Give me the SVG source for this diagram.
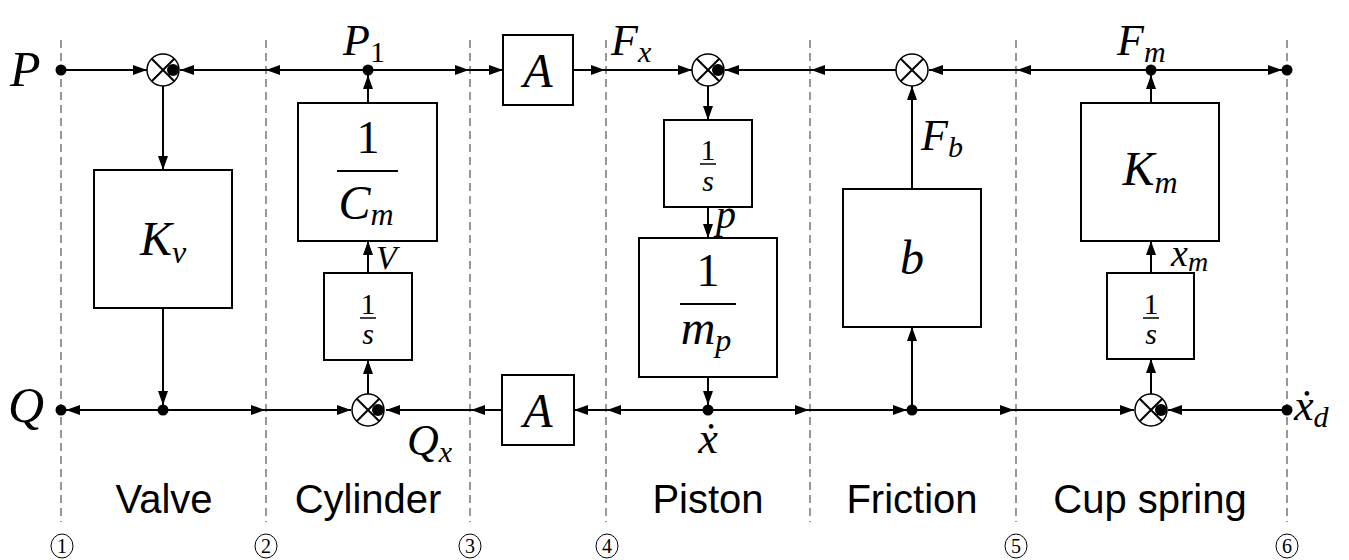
<svg xmlns="http://www.w3.org/2000/svg" width="1349" height="560" viewBox="0 0 1349 560">
<defs>
<marker id="arr" viewBox="0 0 14 10" refX="14" refY="5" markerWidth="14" markerHeight="10" markerUnits="userSpaceOnUse" orient="auto">
<path d="M0,0 L14,5 L0,10 z" fill="#000"/>
</marker>
<style>
.dash{stroke:#555;stroke-width:1.2;stroke-dasharray:8 5;fill:none}
.w{stroke:#000;stroke-width:2;fill:none;marker-end:url(#arr)}
.box{fill:#fff;stroke:#000;stroke-width:2}
.dot{fill:#000}
.sj{fill:#fff;stroke:#000;stroke-width:1.5}
.x{stroke:#000;stroke-width:2}
.m{font-family:"Liberation Serif",serif;font-style:italic;fill:#000}
.n{font-family:"Liberation Serif",serif;fill:#000}
.s{font-family:"Liberation Sans",sans-serif;fill:#000}
.fl{stroke:#000;stroke-width:2}
.c{fill:none;stroke:#000;stroke-width:1}
</style>
</defs>
<rect width="1349" height="560" fill="#fff"/>
<g id="sections">
<line class="dash" x1="61" y1="40" x2="61" y2="522"/>
<line class="dash" x1="266" y1="40" x2="266" y2="522"/>
<line class="dash" x1="470" y1="40" x2="470" y2="522"/>
<line class="dash" x1="606" y1="40" x2="606" y2="522"/>
<line class="dash" x1="810" y1="40" x2="810" y2="522"/>
<line class="dash" x1="1016" y1="40" x2="1016" y2="522"/>
<line class="dash" x1="1287" y1="40" x2="1287" y2="522"/>
</g>
<g id="connectors">
<line class="w" x1="61" y1="70" x2="147" y2="70"/>
<line class="w" x1="368" y1="70" x2="266" y2="70"/>
<line class="w" x1="266" y1="70" x2="180" y2="70"/>
<line class="w" x1="368" y1="70" x2="469" y2="70"/>
<line class="w" x1="469" y1="70" x2="503" y2="70"/>
<line class="w" x1="573" y1="70" x2="605" y2="70"/>
<line class="w" x1="605" y1="70" x2="692" y2="70"/>
<line class="w" x1="896" y1="70" x2="811" y2="70"/>
<line class="w" x1="811" y1="70" x2="725" y2="70"/>
<line class="w" x1="1151" y1="70" x2="1017" y2="70"/>
<line class="w" x1="1017" y1="70" x2="929" y2="70"/>
<line class="w" x1="1151" y1="70" x2="1282" y2="70"/>
<line class="w" x1="163" y1="86" x2="163" y2="170"/>
<line class="w" x1="368" y1="103" x2="368" y2="75"/>
<line class="w" x1="708" y1="86" x2="708" y2="120"/>
<line class="w" x1="708" y1="207" x2="708" y2="238"/>
<line class="w" x1="912" y1="189" x2="912" y2="86"/>
<line class="w" x1="1151" y1="103" x2="1151" y2="75"/>
<line class="w" x1="368" y1="273" x2="368" y2="241"/>
<line class="w" x1="368" y1="394" x2="368" y2="360"/>
<line class="w" x1="1151" y1="273" x2="1151" y2="241"/>
<line class="w" x1="1151" y1="394" x2="1151" y2="359"/>
<line class="w" x1="163" y1="308" x2="163" y2="405"/>
<line class="w" x1="163" y1="410" x2="66" y2="410"/>
<line class="w" x1="163" y1="410" x2="265" y2="410"/>
<line class="w" x1="265" y1="410" x2="351" y2="410"/>
<line class="w" x1="502" y1="410" x2="471" y2="410"/>
<line class="w" x1="471" y1="410" x2="386" y2="410"/>
<line class="w" x1="708" y1="410" x2="607" y2="410"/>
<line class="w" x1="607" y1="410" x2="574" y2="410"/>
<line class="w" x1="708" y1="377" x2="708" y2="405"/>
<line class="w" x1="708" y1="410" x2="809" y2="410"/>
<line class="w" x1="809" y1="410" x2="907" y2="410"/>
<line class="w" x1="912" y1="410" x2="912" y2="327"/>
<line class="w" x1="912" y1="410" x2="1014" y2="410"/>
<line class="w" x1="1014" y1="410" x2="1134" y2="410"/>
<line class="w" x1="1287" y1="410" x2="1168" y2="410"/>
</g>
<g id="dots">
<circle class="dot" cx="61" cy="70" r="5.5"/>
<circle class="dot" cx="368" cy="70" r="5.5"/>
<circle class="dot" cx="1151" cy="70" r="5.5"/>
<circle class="dot" cx="1287" cy="70" r="5.5"/>
<circle class="dot" cx="61" cy="410" r="5.5"/>
<circle class="dot" cx="163" cy="410" r="5.5"/>
<circle class="dot" cx="708" cy="410" r="5.5"/>
<circle class="dot" cx="912" cy="410" r="5.5"/>
<circle class="dot" cx="1287" cy="410" r="5.5"/>
</g>
<g id="sum1">
<circle class="sj" cx="163" cy="70" r="16"/>
<line class="x" x1="151.7" y1="58.7" x2="174.3" y2="81.3"/><line class="x" x1="151.7" y1="81.3" x2="174.3" y2="58.7"/>
<circle class="dot" cx="173" cy="70" r="6"/>
</g>
<g id="sum2">
<circle class="sj" cx="708" cy="70" r="16"/>
<line class="x" x1="696.7" y1="58.7" x2="719.3" y2="81.3"/><line class="x" x1="696.7" y1="81.3" x2="719.3" y2="58.7"/>
<circle class="dot" cx="718" cy="70" r="6"/>
</g>
<g id="sum3">
<circle class="sj" cx="912" cy="70" r="16"/>
<line class="x" x1="900.7" y1="58.7" x2="923.3" y2="81.3"/><line class="x" x1="900.7" y1="81.3" x2="923.3" y2="58.7"/>
</g>
<g id="sum4">
<circle class="sj" cx="368" cy="410" r="16"/>
<line class="x" x1="356.7" y1="398.7" x2="379.3" y2="421.3"/><line class="x" x1="356.7" y1="421.3" x2="379.3" y2="398.7"/>
<circle class="dot" cx="378" cy="410" r="6"/>
</g>
<g id="sum5">
<circle class="sj" cx="1151" cy="410" r="16"/>
<line class="x" x1="1139.7" y1="398.7" x2="1162.3" y2="421.3"/><line class="x" x1="1139.7" y1="421.3" x2="1162.3" y2="398.7"/>
<circle class="dot" cx="1161" cy="410" r="6"/>
</g>
<g id="Kv">
<rect class="box" x="94" y="170" width="138" height="138"/>
<text class="m" x="163" y="255" font-size="48" text-anchor="middle">K<tspan font-size="32" dy="8">v</tspan></text>
</g>
<g id="invCm">
<rect class="box" x="298" y="103" width="139" height="138"/>
<text class="n" x="368" y="153" font-size="46" text-anchor="middle">1</text>
<line class="fl" x1="337" y1="171" x2="398" y2="171"/>
<text class="m" x="366" y="219" font-size="48" text-anchor="middle">C<tspan font-size="32" dy="6">m</tspan></text>
</g>
<g id="intV">
<rect class="box" x="324" y="273" width="88" height="87"/>
<text class="n" x="368" y="314" font-size="30" text-anchor="middle">1</text>
<line class="fl" x1="360" y1="318" x2="376" y2="318" style="stroke-width:1.5"/>
<text class="m" x="368" y="344" font-size="30" text-anchor="middle">s</text>
</g>
<g id="Atop">
<rect class="box" x="503" y="35" width="70" height="70"/>
<text class="m" x="538" y="87" font-size="48" text-anchor="middle">A</text>
</g>
<g id="Abot">
<rect class="box" x="502" y="375" width="72" height="70"/>
<text class="m" x="538" y="427" font-size="48" text-anchor="middle">A</text>
</g>
<g id="intP">
<rect class="box" x="664" y="120" width="88" height="87"/>
<text class="n" x="708" y="160" font-size="30" text-anchor="middle">1</text>
<line class="fl" x1="700" y1="164" x2="716" y2="164" style="stroke-width:1.5"/>
<text class="m" x="708" y="191" font-size="30" text-anchor="middle">s</text>
</g>
<g id="invMp">
<rect class="box" x="639" y="238" width="138" height="139"/>
<text class="n" x="708" y="286" font-size="46" text-anchor="middle">1</text>
<line class="fl" x1="680" y1="304" x2="736" y2="304"/>
<text class="m" x="706" y="344" font-size="48" text-anchor="middle">m<tspan font-size="32" dy="7">p</tspan></text>
</g>
<g id="b">
<rect class="box" x="843" y="189" width="138" height="138"/>
<text class="m" x="912" y="274" font-size="48" text-anchor="middle">b</text>
</g>
<g id="Km">
<rect class="box" x="1081" y="103" width="138" height="138"/>
<text class="m" x="1150" y="185" font-size="48" text-anchor="middle">K<tspan font-size="32" dy="8">m</tspan></text>
</g>
<g id="intX">
<rect class="box" x="1107" y="273" width="87" height="86"/>
<text class="n" x="1151" y="314" font-size="30" text-anchor="middle">1</text>
<line class="fl" x1="1143" y1="318" x2="1159" y2="318" style="stroke-width:1.5"/>
<text class="m" x="1151" y="344" font-size="30" text-anchor="middle">s</text>
</g>
<g id="labels">
<text class="m" x="10" y="86" font-size="50">P</text>
<text class="m" x="8" y="422" font-size="50">Q</text>
<text class="m" x="343" y="55" font-size="44">P<tspan class="n" font-style="normal" font-size="30" dy="7">1</tspan></text>
<text class="m" x="611" y="55" font-size="44">F<tspan font-size="30" dy="7">x</tspan></text>
<text class="m" x="1117" y="55" font-size="44">F<tspan font-size="30" dy="7">m</tspan></text>
<text class="m" x="921" y="150" font-size="44">F<tspan font-size="30" dy="7">b</tspan></text>
<text class="m" x="407" y="455" font-size="44">Q<tspan font-size="30" dy="7">x</tspan></text>
<text class="m" x="708" y="453" font-size="44" text-anchor="middle">ẋ</text>
<text class="m" x="1294" y="420" font-size="44">ẋ<tspan font-size="30" dy="7">d</tspan></text>
<text class="m" x="376" y="269" font-size="34">V</text>
<text class="m" x="716" y="228" font-size="40">p</text>
<text class="m" x="1171" y="266" font-size="38">x<tspan font-size="28" dy="5">m</tspan></text>
</g>
<g id="sectionNames">
<text class="s" x="164" y="513" font-size="40" text-anchor="middle">Valve</text>
<text class="s" x="368" y="513" font-size="40" text-anchor="middle">Cylinder</text>
<text class="s" x="708" y="513" font-size="40" text-anchor="middle">Piston</text>
<text class="s" x="912" y="513" font-size="40" text-anchor="middle">Friction</text>
<text class="s" x="1150" y="513" font-size="40" text-anchor="middle">Cup spring</text>
</g>
<g id="numbers">
<ellipse class="c" cx="62" cy="546" rx="11" ry="12"/><text class="n" x="62" y="553" font-size="20" text-anchor="middle">1</text>
<ellipse class="c" cx="266" cy="546" rx="11" ry="12"/><text class="n" x="266" y="553" font-size="20" text-anchor="middle">2</text>
<ellipse class="c" cx="470" cy="546" rx="11" ry="12"/><text class="n" x="470" y="553" font-size="20" text-anchor="middle">3</text>
<ellipse class="c" cx="607" cy="546" rx="11" ry="12"/><text class="n" x="607" y="553" font-size="20" text-anchor="middle">4</text>
<ellipse class="c" cx="1016" cy="546" rx="11" ry="12"/><text class="n" x="1016" y="553" font-size="20" text-anchor="middle">5</text>
<ellipse class="c" cx="1287" cy="546" rx="11" ry="12"/><text class="n" x="1287" y="553" font-size="20" text-anchor="middle">6</text>
</g>
</svg>
